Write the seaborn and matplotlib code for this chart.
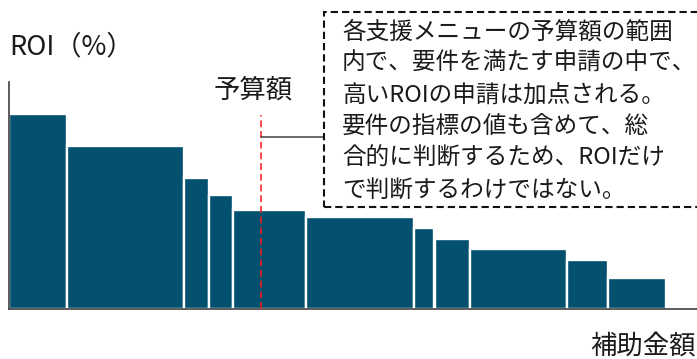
import numpy as np
import pandas as pd
import matplotlib
matplotlib.use("Agg")
import matplotlib.pyplot as plt
from matplotlib.patches import Rectangle
import seaborn as sns

# ---- data (arbitrary units) ----
widths = [58.2, 116.8, 24.5, 24.7, 72.3, 108.8, 20.2, 35.2, 97.0, 41.1, 58.2]   # 補助金額 per application
roi = [194.7, 163.1, 131.1, 114.4, 99.1, 91.7, 81.1, 70.4, 59.7, 49.1, 30.7]    # ROI (%)
budget = 252.0                                                                   # 予算額 position
y_label = "ROI（%）"
x_label = "補助金額"
budget_label = "予算額"
note_lines = [
    "各支援メニューの予算額の範囲",
    "内で、要件を満たす申請の中で、",
    "高いROIの申請は加点される。",
    "要件の指標の値も含めて、総",
    "合的に判断するため、ROIだけ",
    "で判断するわけではない。",
]

sns.set_style("white")
plt.rcParams["font.family"] = ["Noto Sans CJK JP", "DejaVu Sans"]

W, H = 697, 359
fig = plt.figure(figsize=(W / 100, H / 100), dpi=100)
ax = fig.add_axes([9 / W, (H - 309) / H, (W - 9) / W, (309 - 82) / H])

edges = [0.0] + list(np.cumsum(widths))
centers = [(a + b) / 2 for a, b in zip(edges[:-1], edges[1:])]
df = pd.DataFrame({"pos": centers, "roi": roi})

sns.histplot(data=df, x="pos", weights="roi", bins=edges, color="#03516e",
             alpha=1, edgecolor="white", linewidth=1.7, ax=ax)

ax.set_xlim(0, W - 9)
ax.set_ylim(0, 309 - 82)
ax.set_xticks([])
ax.set_yticks([])
ax.set_xlabel("")
ax.set_ylabel("")
for s in ["top", "right"]:
    ax.spines[s].set_visible(False)
for s in ["left", "bottom"]:
    ax.spines[s].set_color("#404040")
    ax.spines[s].set_linewidth(1.2)

# budget line
ax.plot([budget, budget], [0, 194], color="#ff1a1a", lw=1.1,
        linestyle=(0, (4.5, 2.5)), zorder=3)
# connector to note box
ax.plot([budget, 314], [172.3, 172.3], color="#404040", lw=1.1,
        clip_on=False, zorder=3)

# dashed note box
box = Rectangle((324 / W, (H - 206.7) / H), 1.0, (206.7 - 12.3) / H,
                transform=fig.transFigure, fill=False, edgecolor="#111111",
                lw=1.5, linestyle=(0, (3.5, 1.9)))
fig.patches.append(box)

txt_color = "#1a1a1a"
for i, line in enumerate(note_lines):
    yc = 31.7 + i * 31.7
    fig.text(342 / W, 1 - yc / H, line, fontsize=17, ha="left", va="center",
             color=txt_color)

fig.text(253 / W, 1 - 90 / H, budget_label, fontsize=19, ha="center",
         va="center", color=txt_color)
fig.text(9 / W, 1 - 47 / H, y_label, fontsize=19.5, ha="left", va="center",
         color=txt_color)
fig.text(696 / W, 1 - 347 / H, x_label, fontsize=19, ha="right", va="center",
         color=txt_color)

fig.savefig("out.png", dpi=100)
